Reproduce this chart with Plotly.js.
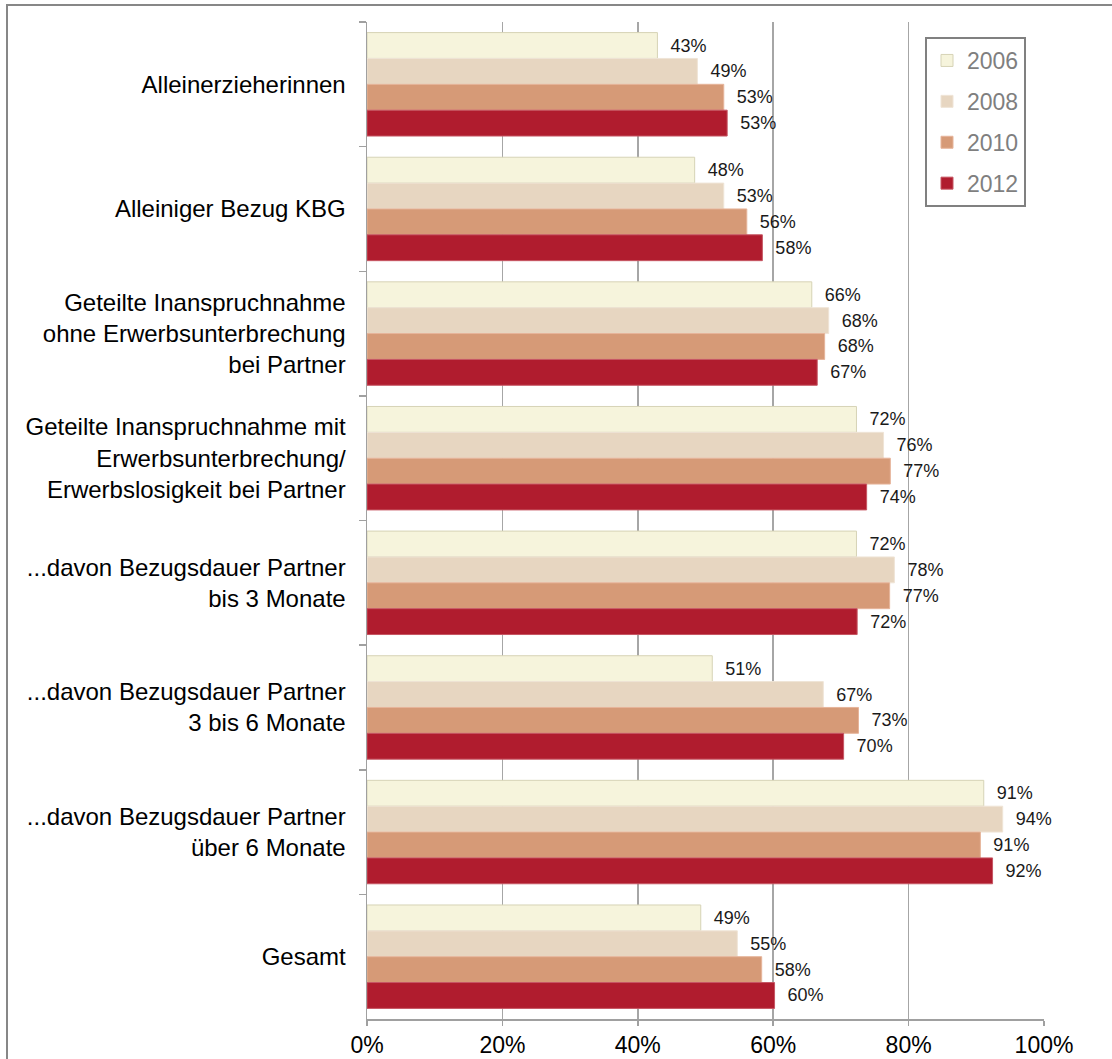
<!DOCTYPE html>
<html>
<head>
<meta charset="utf-8">
<script src="https://cdn.plot.ly/plotly-3.0.1.min.js"></script>
<style>
  html, body { margin: 0; padding: 0; background: #ffffff; }
  #chart { width: 1112px; height: 1059px; }
</style>
</head>
<body>
<div id="chart"></div>
<script>
const categories = [
  "Alleinerzieherinnen",
  "Alleiniger Bezug KBG",
  "Geteilte Inanspruchnahme<br>ohne Erwerbsunterbrechung<br>bei Partner",
  "Geteilte Inanspruchnahme mit<br>Erwerbsunterbrechung/<br>Erwerbslosigkeit bei Partner",
  "...davon Bezugsdauer Partner<br>bis 3 Monate",
  "...davon Bezugsdauer Partner<br>3 bis 6 Monate",
  "...davon Bezugsdauer Partner<br>über 6 Monate",
  "Gesamt"
];
const years = ["2006", "2008", "2010", "2012"];
const values2006 = [42.9, 48.4, 65.7, 72.3, 72.3, 51.0, 91.1, 49.3];
const values2008 = [48.8, 52.7, 68.2, 76.3, 77.9, 67.4, 93.9, 54.7];
const values2010 = [52.7, 56.1, 67.6, 77.3, 77.2, 72.6, 90.6, 58.3];
const values2012 = [53.2, 58.4, 66.5, 73.8, 72.4, 70.4, 92.4, 60.2];
const xTicks = [0, 20, 40, 60, 80, 100];

const series = [values2006, values2008, values2010, values2012];
const fills = ["#F6F4DC", "#E7D6C1", "#D69A77", "#B01C2E"];
const borders = ["#D6D3B6", "#EFE4D6", "#E6B49A", "#C65663"];
const FONT = "'Liberation Sans', Arial, Helvetica, sans-serif";

const traces = series.map((vals, i) => ({
  type: "bar",
  orientation: "h",
  name: years[i],
  legendgroup: years[i],
  y: categories,
  x: vals,
  marker: { color: fills[i], line: { color: borders[i], width: 1 } },
  text: vals.map(v => "\u00a0\u00a0" + Math.round(v) + "%"),
  texttemplate: "%{text}",
  textposition: "outside",
  textfont: { family: FONT, size: 18, color: "#1a1a1a" },
  constraintext: "none",
  cliponaxis: false,
  hoverinfo: "x+y+name"
}));

const L = 367, R = 68, T = 22, B = 40;
const W = 1112 - L - R, H = 1059 - T - B;

const layout = {
  width: 1112,
  height: 1059,
  margin: { l: L, r: R, t: T, b: B, pad: 0 },
  paper_bgcolor: "#ffffff",
  plot_bgcolor: "#ffffff",
  font: { family: FONT, color: "#000000" },
  barmode: "group",
  bargap: 0.17,
  bargroupgap: 0,
  showlegend: true,
  legend: {
    x: (925 - L) / W,
    y: (1019 - 37) / H,
    xanchor: "left",
    yanchor: "top",
    bgcolor: "#ffffff",
    bordercolor: "#808080",
    borderwidth: 2,
    font: { family: FONT, size: 23, color: "#7f7f7f" },
    traceorder: "grouped",
    tracegroupgap: 8
  },
  xaxis: {
    range: [0, 100],
    tickvals: xTicks,
    ticktext: xTicks.map(v => v + "%"),
    showgrid: true,
    gridcolor: "#a6a6a6",
    gridwidth: 1.5,
    zeroline: false,
    showline: true,
    linecolor: "#a0a0a0",
    linewidth: 1.5,
    ticks: "outside",
    ticklen: 5,
    tickcolor: "#a0a0a0",
    tickwidth: 1.5,
    tickfont: { family: FONT, size: 23, color: "#000000" }
  },
  yaxis: {
    type: "category",
    range: [7.5, -0.5],
    autorange: false,
    showgrid: false,
    zeroline: false,
    showline: true,
    linecolor: "#a0a0a0",
    linewidth: 1.5,
    ticks: "outside",
    tickson: "boundaries",
    ticklen: 7,
    tickcolor: "#a0a0a0",
    tickwidth: 1.5,
    ticklabelstandoff: 15,
    tickfont: { family: FONT, size: 24, color: "#000000" }
  },
  shapes: [{
    type: "rect",
    xref: "paper", yref: "paper",
    x0: (7 - L) / W, x1: (1120 - L) / W,
    y0: (1019 - 1070) / H, y1: (1019 - 5) / H,
    line: { color: "#878787", width: 2 },
    fillcolor: "rgba(0,0,0,0)",
    layer: "below"
  }]
};

Plotly.newPlot("chart", traces, layout, { displayModeBar: false, staticPlot: true });
</script>
</body>
</html>
